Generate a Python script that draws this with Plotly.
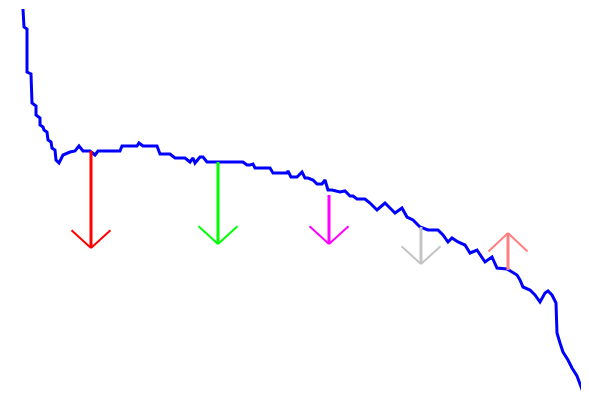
import plotly.graph_objects as go

# Price series (t = time index, price = value)
t = [0, 1, 4, 4, 8, 9, 13, 13, 17, 17, 20, 21, 24, 25, 28, 29, 32, 33, 36, 40,
     47, 52, 56, 60, 67, 72, 75, 97, 99, 114, 116, 120, 134, 137, 147, 152, 162,
     167, 170, 172, 177, 180, 184, 220, 224, 227, 230, 232, 247, 250, 264, 265,
     268, 274, 279, 282, 285, 290, 294, 299, 302, 305, 309, 317, 322, 327, 330,
     334, 342, 347, 354, 362, 367, 372, 379, 384, 390, 397, 405, 415, 420, 425,
     429, 435, 442, 447, 454, 459, 462, 469, 474, 484, 489, 494, 497, 500, 507,
     512, 517, 522, 525, 529, 533, 534, 537, 540, 545, 549, 554, 557, 560, 564]
price = [40.1, 38.3, 38.1, 33.8, 33.6, 30.7, 30.4, 29.5, 29.2, 28.5, 28.3, 28.0,
         27.8, 27.0, 26.8, 26.2, 26.0, 25.0, 24.7, 25.5, 25.8, 25.9, 26.4, 25.9,
         25.9, 25.5, 25.9, 25.9, 26.4, 26.4, 26.7, 26.4, 26.4, 25.6, 25.6, 25.2,
         25.2, 24.8, 25.2, 24.7, 25.3, 25.3, 24.8, 24.8, 24.5, 24.5, 24.6, 24.2,
         24.2, 23.7, 23.7, 23.9, 23.3, 23.3, 23.8, 23.2, 23.2, 23.0, 22.6, 22.6,
         23.0, 22.0, 22.0, 21.8, 21.9, 21.4, 21.4, 21.1, 21.1, 20.7, 20.0, 20.7,
         20.2, 19.7, 20.2, 19.3, 19.0, 18.3, 18.0, 18.0, 17.5, 16.8, 17.2, 16.8,
         16.5, 15.7, 16.0, 15.3, 14.8, 15.3, 14.2, 14.1, 13.8, 13.5, 13.0, 12.3,
         12.0, 11.5, 10.8, 11.7, 11.9, 11.5, 10.7, 7.7, 6.7, 5.8, 5.0, 4.2, 3.4,
         2.5, 1.8, 1.0]

# Signal arrows: position, start value (on the line), tip value, colour
sig_t = [68, 195, 306, 398, 485]
sig_start = [25.9, 24.8, 21.5, 18.3, 14.0]
sig_tip = [16.2, 16.6, 16.6, 14.6, 17.7]
sig_color = ["#ff0000", "#00ff00", "#ff00ff", "#c4c4c4", "#ff8080"]

fig = go.Figure()
fig.add_trace(go.Scatter(x=t, y=price, mode="lines",
                         line=dict(color="#0000ff", width=3),
                         hoverinfo="skip", showlegend=False))

for st, s0, s1, c in zip(sig_t, sig_start, sig_tip, sig_color):
    fig.add_trace(go.Scatter(x=[st, st], y=[s0, s1], mode="lines",
                             line=dict(color=c, width=3),
                             hoverinfo="skip", showlegend=False))
    down = s1 < s0
    ay = -19 if down else 20
    for ax in (-21, 21):
        fig.add_annotation(x=st, y=s1, xref="x", yref="y", ax=ax, ay=ay,
                           showarrow=True, arrowhead=0, arrowwidth=2,
                           arrowcolor=c, text="", standoff=0, startstandoff=0)

fig.update_layout(
    width=581, height=395,
    margin=dict(l=0, r=0, t=0, b=0),
    paper_bgcolor="white", plot_bgcolor="white",
    xaxis=dict(range=[-15, 566], visible=False),
    yaxis=dict(range=[0.7, 40.2], visible=False),
    showlegend=False,
)

fig.write_html("out.html")
